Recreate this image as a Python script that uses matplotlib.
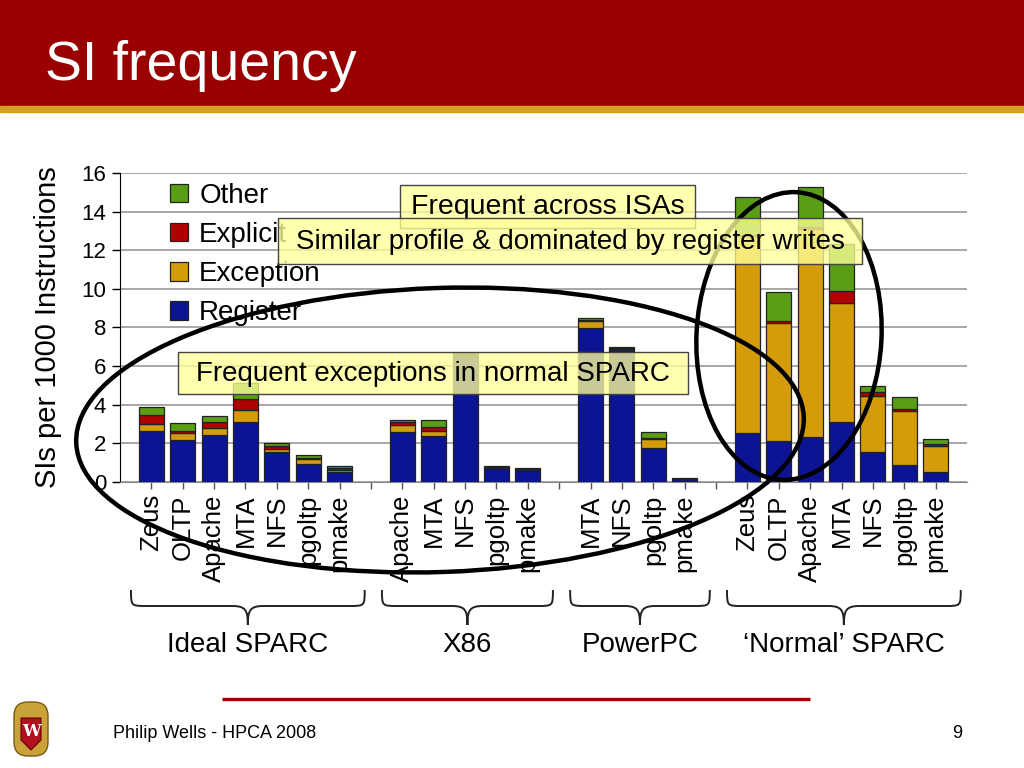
import numpy as np
import matplotlib
matplotlib.use('Agg')
import matplotlib.pyplot as plt
from matplotlib.patches import Rectangle, Ellipse, PathPatch, FancyBboxPatch, Polygon
from matplotlib.path import Path
from matplotlib.transforms import blended_transform_factory

plt.rcParams['font.family'] = ['Liberation Sans', 'DejaVu Sans']

# ---------------- data ----------------
groups = ['Ideal SPARC', 'X86', 'PowerPC', '\u2018Normal\u2019 SPARC']
group_sizes = [7, 5, 4, 7]
categories = ['Zeus', 'OLTP', 'Apache', 'MTA', 'NFS', 'pgoltp', 'pmake',
              'Apache', 'MTA', 'NFS', 'pgoltp', 'pmake',
              'MTA', 'NFS', 'pgoltp', 'pmake',
              'Zeus', 'OLTP', 'Apache', 'MTA', 'NFS', 'pgoltp', 'pmake']

register = [2.63, 2.17, 2.41, 3.07, 1.56, 0.92, 0.50,
            2.57, 2.39, 6.55, 0.70, 0.60,
            7.97, 6.85, 1.73, 0.15,
            2.51, 2.11, 2.30, 3.12, 1.53, 0.87, 0.50]
exception = [0.35, 0.34, 0.36, 0.65, 0.12, 0.24, 0.12,
             0.38, 0.24, 0.04, 0.02, 0.02,
             0.34, 0.03, 0.49, 0.00,
             10.20, 6.12, 10.80, 6.15, 2.92, 2.82, 1.35]
explicit = [0.47, 0.12, 0.31, 0.56, 0.17, 0.09, 0.08,
            0.13, 0.23, 0.02, 0.02, 0.02,
            0.06, 0.03, 0.05, 0.00,
            0.10, 0.10, 0.10, 0.60, 0.19, 0.07, 0.11]
other = [0.41, 0.40, 0.33, 0.82, 0.14, 0.12, 0.12,
         0.11, 0.33, 0.05, 0.08, 0.06,
         0.12, 0.05, 0.32, 0.03,
         1.96, 1.51, 2.07, 2.43, 0.30, 0.62, 0.26]

series = [('Register', register, '#0c1494'),
          ('Exception', exception, '#d49c0a'),
          ('Explicit', explicit, '#b00000'),
          ('Other', other, '#5a9e16')]

# bar positions: one empty slot between groups
pos = []
start = 0
for n in group_sizes:
    pos += list(range(start, start + n))
    start += n + 1
pos = np.array(pos)

fig = plt.figure(figsize=(10.24, 7.68), dpi=100)

# ---------------- slide frame ----------------
fig.patches.append(Rectangle((0, 1 - 106 / 768), 1, 106 / 768, transform=fig.transFigure,
                             color='#990000', zorder=0))
fig.patches.append(Rectangle((0, 1 - 112 / 768), 1, 6 / 768, transform=fig.transFigure,
                             color='#d4a020', zorder=0))
fig.text(45 / 1024, 1 - 80 / 768, 'SI frequency', color='white', fontsize=40,
         va='baseline', ha='left')

# ---------------- chart ----------------
ax = fig.add_axes([120 / 1024, 1 - 481.7 / 768, 847 / 1024, 308.7 / 768])
bottom = np.zeros(len(pos))
handles = []
for name, vals, col in series:
    vals = np.array(vals)
    b = ax.bar(pos, vals, width=0.8, bottom=bottom, color=col, edgecolor='#222222',
               linewidth=0.9, label=name, zorder=3)
    handles.append(b)
    bottom += vals

ax.set_xlim(-1, 26)
ax.set_ylim(0, 16)
ax.set_yticks(np.arange(0, 17, 2))
ax.tick_params(axis='y', labelsize=16, length=6, width=1, pad=4)
ax.grid(axis='y', color='#a0a0a0', linewidth=1.3, zorder=0)
ax.set_axisbelow(True)

all_ticks = np.arange(0, 26)
labels = [''] * 26
for p, c in zip(pos, categories):
    labels[p] = c
ax.set_xticks(all_ticks)
ax.set_xticklabels(labels, rotation=90, fontsize=18.5, va='top')
ax.tick_params(axis='x', length=5, width=1, pad=4, color='#555555')

for s in ['top', 'right']:
    ax.spines[s].set_visible(False)
ax.spines['left'].set_color('black')
ax.spines['bottom'].set_color('#888888')
ax.set_ylabel('SIs per 1000 Instructions', fontsize=21)
ax.yaxis.set_label_coords(-0.068, 0.5)

leg = ax.legend(handles[::-1], [h.get_label() for h in handles[::-1]],
                loc='upper left', bbox_to_anchor=(0.059, 0.968), frameon=False,
                fontsize=20, handlelength=0.65, handleheight=0.65,
                handletextpad=0.4, labelspacing=0.47, borderpad=0, borderaxespad=0)

# ---------------- overlay (slide pixel coords) ----------------
ov = fig.add_axes([0, 0, 1, 1], zorder=5)
ov.set_xlim(0, 1024)
ov.set_ylim(768, 0)
ov.axis('off')

# ellipses
ov.add_patch(Ellipse((440, 430), 728, 284, angle=-2, fill=False, lw=3.2,
                     edgecolor='black', zorder=2))
ov.add_patch(Ellipse((789, 336), 185, 288, angle=3, fill=False, lw=3.2,
                     edgecolor='black', zorder=2))

# callout boxes
callouts = [((400, 185, 295, 43), 'Frequent across ISAs', 20.5),
            ((278, 218, 584, 46), 'Similar profile & dominated by register writes', 20),
            ((178, 352, 510, 42), 'Frequent exceptions in normal SPARC', 20)]
for k, ((x0, y0, w, h), txt, fs) in enumerate(callouts):
    ov.add_patch(Rectangle((x0, y0), w, h, facecolor='#ffff99', alpha=0.78,
                           edgecolor='none', zorder=3 + k))
    ov.add_patch(Rectangle((x0, y0), w, h, facecolor='none', edgecolor='#444444',
                           lw=1, zorder=3 + k))
    ov.text(x0 + w / 2, y0 + h / 2 + 1, txt, fontsize=fs, ha='center', va='center',
            zorder=3 + k)

# group braces, x from the bar axis, y in slide pixels
bt = blended_transform_factory(ax.transData, ov.transData)
y_top, y_mid, y_tip = 590, 606, 625
r = 0.5
start = 0
for g, n in zip(groups, group_sizes):
    x0 = start - 0.65
    x1 = start + n - 1 + 0.8
    xc = (x0 + x1) / 2
    verts = [(x0, y_top), (x0, y_mid), (x0, y_mid), (x0 + r, y_mid),
             (xc - r, y_mid),
             (xc - 0.15 * r, y_mid), (xc, y_mid + 4), (xc, y_tip),
             (xc, y_mid + 4), (xc + 0.15 * r, y_mid), (xc + r, y_mid),
             (x1 - r, y_mid),
             (x1, y_mid), (x1, y_mid), (x1, y_top)]
    codes = [Path.MOVETO, Path.CURVE4, Path.CURVE4, Path.CURVE4,
             Path.LINETO,
             Path.CURVE4, Path.CURVE4, Path.CURVE4,
             Path.CURVE4, Path.CURVE4, Path.CURVE4,
             Path.LINETO,
             Path.CURVE4, Path.CURVE4, Path.CURVE4]
    ov.add_patch(PathPatch(Path(verts, codes), fill=False, lw=1.4,
                           edgecolor='#222222', transform=bt))
    ov.text(xc, 645, g, transform=bt, fontsize=20, ha='center', va='center')
    start += n + 1

# footer
ov.plot([222, 810], [699, 699], color='#990000', lw=2.4, solid_capstyle='butt')
ov.text(113, 733, 'Philip Wells - HPCA 2008', fontsize=13, ha='left', va='center')
ov.text(962, 733, '9', fontsize=13, ha='right', va='center')

# crest
ov.add_patch(FancyBboxPatch((14, 702), 34, 54, boxstyle='round,pad=0,rounding_size=14',
                            facecolor='#c9a23a', edgecolor='#7a5a10', lw=1))
ov.add_patch(Polygon([(21, 718), (41, 718), (41, 740), (31, 750), (21, 740)],
                     closed=True, facecolor='#b01020', edgecolor='#6a0000', lw=0.8))
ov.text(31, 732, 'W', color='white', fontsize=12, fontweight='bold', family='serif',
        ha='center', va='center')

fig.savefig('out.png', dpi=100)
